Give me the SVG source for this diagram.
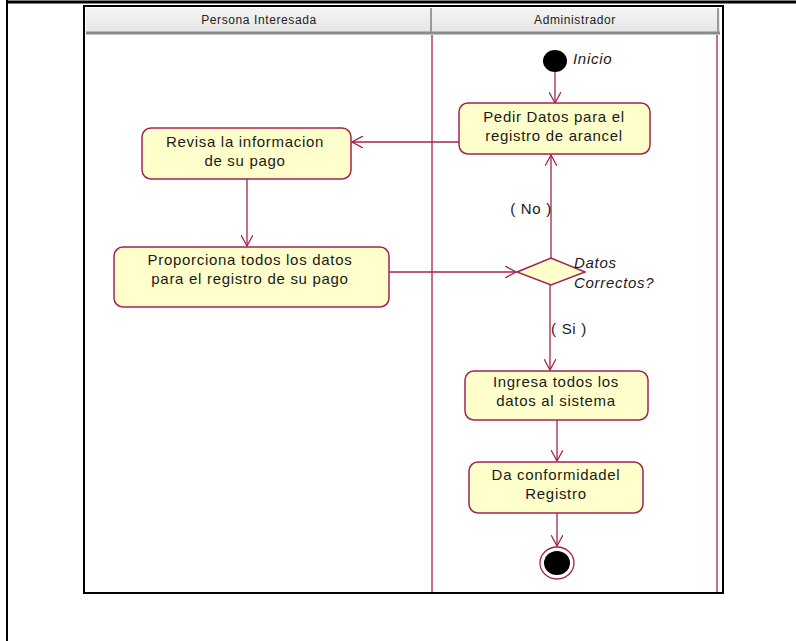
<svg xmlns="http://www.w3.org/2000/svg" width="796" height="641" viewBox="0 0 796 641">
<defs>
<style>
.act{fill:#FFFFCC;stroke:#A32350;stroke-width:1.5}
.t{font-family:"Liberation Sans",Arial,sans-serif;font-size:15px;fill:#1a1a1a;text-anchor:middle;letter-spacing:0.7px}
.it{font-family:"Liberation Sans",Arial,sans-serif;font-size:15px;fill:#1a1a1a;font-style:italic;letter-spacing:0.7px}
.h{font-family:"Liberation Sans",Arial,sans-serif;font-size:12px;fill:#222;text-anchor:middle;letter-spacing:0.6px}
.c{fill:none;stroke:#A32350;stroke-width:1.3}
.lane{stroke:#A32350;stroke-width:1.3;fill:none}
</style>
<marker id="arr" viewBox="0 0 12 12" refX="11" refY="6" markerWidth="12" markerHeight="12" markerUnits="userSpaceOnUse" orient="auto">
<path d="M0,0 L11,6 L0,12" fill="none" stroke="#A32350" stroke-width="1.3"/>
</marker>
<linearGradient id="hg" x1="0" y1="0" x2="0" y2="1">
<stop offset="0" stop-color="#f4f4f4"/>
<stop offset="1" stop-color="#e6e6e6"/>
</linearGradient>
</defs>
<rect x="0" y="0" width="796" height="641" fill="#ffffff"/>
<line x1="7" y1="2" x2="796" y2="2" stroke="#000" stroke-width="3"/>
<line x1="7" y1="0" x2="7" y2="641" stroke="#000" stroke-width="2"/>
<g id="swimlanes">
<rect x="84" y="6" width="639" height="587" fill="#fff" stroke="#000" stroke-width="2"/>
<rect x="86" y="8" width="634" height="24" fill="url(#hg)"/>
<line x1="86" y1="33" x2="720" y2="33" stroke="#8a8a8a" stroke-width="3"/>
<line x1="431" y1="8" x2="431" y2="32" stroke="#9a9a9a" stroke-width="2"/>
<line x1="718" y1="8" x2="718" y2="32" stroke="#9a9a9a" stroke-width="2"/>
<text class="h" x="259" y="24">Persona Interesada</text>
<text class="h" x="575" y="24">Administrador</text>
<line class="lane" x1="432" y1="35" x2="432" y2="592"/>
<line class="lane" x1="717" y1="35" x2="717" y2="592"/>
</g>
<g id="connectors">
<line class="c" x1="555" y1="72" x2="555" y2="103" marker-end="url(#arr)"/>
<line class="c" x1="459" y1="142" x2="352" y2="142" marker-end="url(#arr)"/>
<line class="c" x1="247" y1="179" x2="247" y2="246" marker-end="url(#arr)"/>
<line class="c" x1="389" y1="272" x2="516" y2="272" marker-end="url(#arr)"/>
<line class="c" x1="551" y1="258" x2="551" y2="155" marker-end="url(#arr)"/>
<line class="c" x1="550" y1="285" x2="550" y2="370" marker-end="url(#arr)"/>
<line class="c" x1="557" y1="420" x2="557" y2="461" marker-end="url(#arr)"/>
<line class="c" x1="557" y1="513" x2="557" y2="546" marker-end="url(#arr)"/>
<text class="t" x="531" y="214">( No )</text>
<text class="t" x="569" y="334">( Si )</text>
</g>
<g id="inicio">
<ellipse cx="555" cy="61" rx="12" ry="11" fill="#000"/>
<text class="it" x="573" y="64">Inicio</text>
</g>
<g id="pedir">
<rect class="act" x="459" y="103" width="191" height="51" rx="9"/>
<text class="t" x="554" y="122">Pedir Datos  para el</text>
<text class="t" x="554" y="141">registro de arancel</text>
</g>
<g id="revisa">
<rect class="act" x="142" y="128" width="209" height="51" rx="9"/>
<text class="t" x="245" y="147">Revisa la informacion</text>
<text class="t" x="245" y="166">de su pago</text>
</g>
<g id="proporciona">
<rect class="act" x="114" y="247" width="275" height="60" rx="9"/>
<text class="t" x="250" y="265">Proporciona todos los datos</text>
<text class="t" x="250" y="284">para el registro de su pago</text>
</g>
<g id="decision">
<polygon class="act" points="517,272 551,258 585,272 551,285"/>
<text class="it" x="574" y="268">Datos</text>
<text class="it" x="574" y="288">Correctos?</text>
</g>
<g id="ingresa">
<rect class="act" x="465" y="371" width="183" height="49" rx="9"/>
<text class="t" x="556" y="387">Ingresa todos los</text>
<text class="t" x="556" y="406">datos al sistema</text>
</g>
<g id="conformidad">
<rect class="act" x="469" y="462" width="174" height="51" rx="9"/>
<text class="t" x="556" y="480">Da conformidadel</text>
<text class="t" x="556" y="499">Registro</text>
</g>
<g id="fin">
<ellipse cx="557" cy="563" rx="17" ry="16" fill="#fff" stroke="#A32350" stroke-width="1.3"/>
<ellipse cx="557" cy="563" rx="13" ry="12" fill="#000"/>
</g>
</svg>
